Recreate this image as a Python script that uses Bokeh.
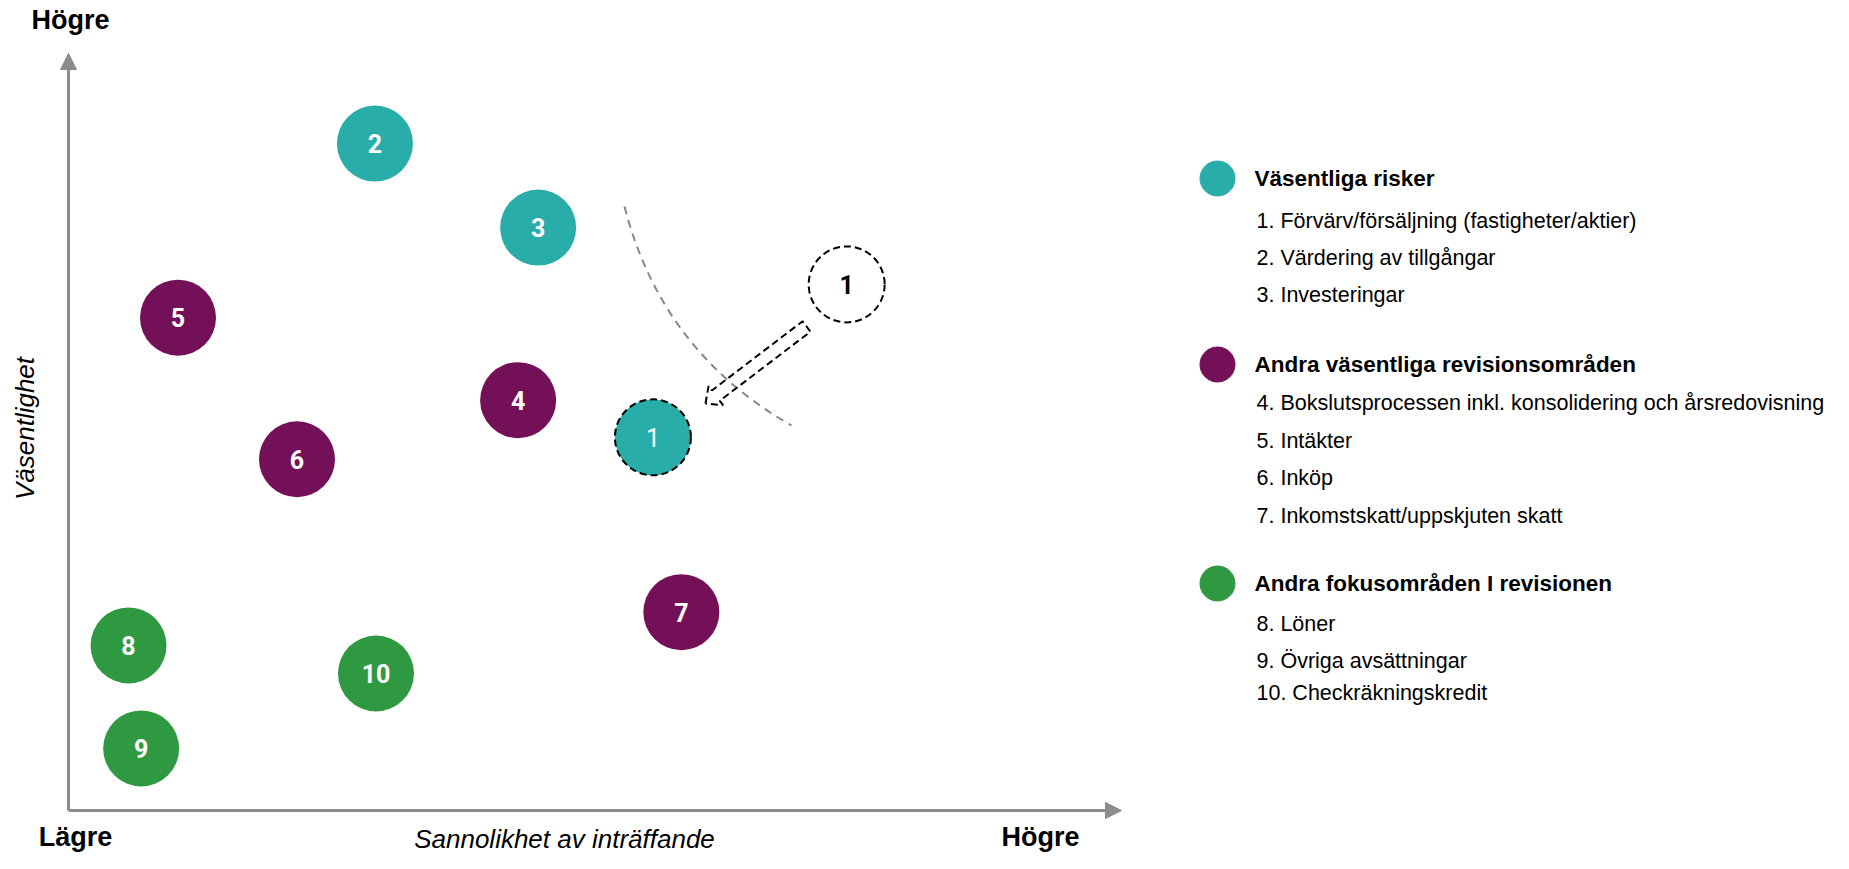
import math
from bokeh.plotting import figure
from bokeh.models import Range1d, Arrow, NormalHead, ColumnDataSource
from bokeh.core.properties import value
from bokeh.embed import file_html
from bokeh.resources import INLINE

# ---------------- data ----------------
ids = ["1", "2", "3", "4", "5", "6", "7", "8", "9", "10"]
likelihood = [5.55, 2.91, 4.46, 4.27, 1.04, 2.17, 5.82, 0.57, 0.69, 2.92]
materiality = [4.93, 8.81, 7.70, 5.42, 6.51, 4.64, 2.62, 2.18, 0.82, 1.81]
group = [0, 0, 0, 1, 1, 1, 1, 2, 2, 2]

prev_id = "1"
prev_likelihood = 7.39
prev_materiality = 6.95

group_titles = ["Väsentliga risker",
                "Andra väsentliga revisionsområden",
                "Andra fokusområden I revisionen"]
group_items = [
    ["1. Förvärv/försäljning (fastigheter/aktier)",
     "2. Värdering av tillgångar",
     "3. Investeringar"],
    ["4. Bokslutsprocessen inkl. konsolidering och årsredovisning",
     "5. Intäkter",
     "6. Inköp",
     "7. Inkomstskatt/uppskjuten skatt"],
    ["8. Löner",
     "9. Övriga avsättningar",
     "10. Checkräkningskredit"],
]
group_colors = ["#29ADA9", "#741058", "#2E9940"]

x_label = "Sannolikhet av inträffande"
y_label = "Väsentlighet"
low_label = "Lägre"
high_label = "Högre"

# ---------------- layout helpers ----------------
W, H = 1833, 853
OX, OY = 68, 810          # axis origin in frame pixels
PX_X, PX_Y = 105.3, 75.7  # pixels per unit


def ux(fx):
    return (fx - OX) / PX_X


def uy(fy):
    return (OY - fy) / PX_Y


TXT = "Liberation Sans"
NUMF = "Roboto"
GREY = "#8c8c8c"

p = figure(width=W, height=H, output_backend="svg", toolbar_location=None,
           x_range=Range1d(ux(0), ux(W)), y_range=Range1d(uy(H), uy(0)),
           min_border=0, outline_line_color=None)
p.axis.visible = False
p.grid.visible = False
p.background_fill_color = "white"

# axes with arrows
p.add_layout(Arrow(end=NormalHead(size=16, fill_color=GREY, line_color=GREY),
                   x_start=0, y_start=0, x_end=0, y_end=10,
                   line_color=GREY, line_width=3))
p.add_layout(Arrow(end=NormalHead(size=16, fill_color=GREY, line_color=GREY),
                   x_start=0, y_start=0, x_end=10, y_end=0,
                   line_color=GREY, line_width=3))

# dashed threshold curve
p.quadratic(x0=[ux(624)], y0=[uy(206)], x1=[ux(791)], y1=[uy(425)],
            cx=[ux(661)], cy=[uy(351)],
            line_color="#888888", line_width=2, line_dash="8 6")

# block arrow from previous position (dashed outline)
tip = (705, 403)
tail = (806, 326)
L = math.hypot(tip[0] - tail[0], tip[1] - tail[1])
u = ((tip[0] - tail[0]) / L, (tip[1] - tail[1]) / L)
n = (u[1], -u[0])
pts = [(0, 0), (-13, -12), (-13, -6.5), (-L, -6.5), (-L, 6.5), (-13, 6.5), (-13, 12), (0, 0)]
axs = [ux(tip[0] + a * u[0] + b * n[0]) for a, b in pts]
ays = [uy(tip[1] + a * u[1] + b * n[1]) for a, b in pts]
p.line(axs, ays, line_color="black", line_width=2, line_dash="7 4")

# previous position circle
p.scatter([prev_likelihood], [prev_materiality], size=76, fill_color="white",
          line_color="black", line_width=2, line_dash="7 4")
p.text([prev_likelihood], [prev_materiality], text=[prev_id], text_align="center",
       text_baseline="middle", text_color="black", text_font=value(NUMF),
       text_font_size=value("25px"), text_font_style="bold")

# risk circles
colors = [group_colors[g] for g in group]
src = ColumnDataSource(dict(x=likelihood, y=materiality, t=ids, c=colors))
p.scatter("x", "y", source=src, size=76, fill_color="c", line_color="c", line_width=0)
# moved item gets dashed outline
i1 = ids.index("1")
p.scatter([likelihood[i1]], [materiality[i1]], size=76, fill_color=None,
          line_color="black", line_width=2, line_dash="7 4")
bold_ids = [i for i in ids if i != "1"]
p.text([likelihood[ids.index(i)] for i in bold_ids],
       [materiality[ids.index(i)] for i in bold_ids],
       text=bold_ids, text_align="center", text_baseline="middle",
       text_color="white", text_font=value(NUMF), text_font_size=value("25px"),
       text_font_style="bold")
p.text([likelihood[i1]], [materiality[i1]], text=["1"], text_align="center",
       text_baseline="middle", text_color="white", text_font=value(NUMF),
       text_font_size=value("25px"))

# axis end labels
p.text([ux(70)], [uy(19)], text=[high_label], text_align="center", text_baseline="middle",
       text_font=value(TXT), text_font_size=value("27px"), text_font_style="bold",
       text_color="black")
p.text([ux(75), ux(1040)], [uy(836), uy(836)], text=[low_label, high_label],
       text_align="center", text_baseline="middle",
       text_font=value(TXT), text_font_size=value("27px"), text_font_style="bold",
       text_color="black")
p.text([ux(564)], [uy(838)], text=[x_label], text_align="center", text_baseline="middle",
       text_font=value(TXT), text_font_size=value("26px"), text_font_style="italic",
       text_color="black")
p.text([ux(24)], [uy(428)], text=[y_label], text_align="center", text_baseline="middle",
       angle=math.pi / 2,
       text_font=value(TXT), text_font_size=value("26px"), text_font_style="italic",
       text_color="black")

# legend
dot_x = 1217
title_x = 1254
item_x = 1256
title_y = [178, 364, 583]
item_y = [[220, 257, 294], [402, 440, 477, 515], [623, 660, 692]]
for g in range(3):
    p.scatter([ux(dot_x)], [uy(title_y[g])], size=35, fill_color=group_colors[g],
              line_color=group_colors[g])
    p.text([ux(title_x)], [uy(title_y[g])], text=[group_titles[g]],
           text_baseline="middle", text_font=value(TXT), text_font_size=value("22.5px"),
           text_font_style="bold", text_color="black")
    ys = [uy(v) for v in item_y[g]]
    p.text([ux(item_x)] * len(ys), ys, text=group_items[g], text_baseline="middle",
           text_font=value(TXT), text_font_size=value("21.5px"), text_color="black")

open("out.html", "w").write(file_html(p, INLINE))
